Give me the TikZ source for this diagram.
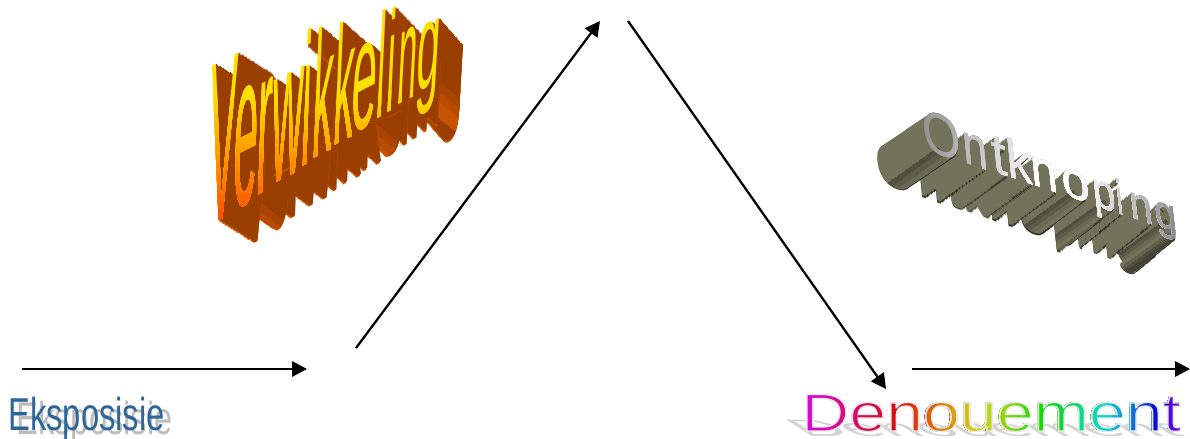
\documentclass[tikz,border=0pt]{standalone}
\usepackage{fontspec}
\setmainfont{Liberation Sans}
\usetikzlibrary{arrows.meta,calc}
\selectcolormodel{rgb}

\definecolor{verwhi}{HTML}{FFE000}
\definecolor{verwlo}{HTML}{FF4800}
\definecolor{verwside}{HTML}{9A3F00}
\definecolor{verwedge}{HTML}{CC5400}
\definecolor{ontside}{HTML}{72735A}
\definecolor{ontedge}{HTML}{34342A}
\definecolor{ontgrey}{HTML}{8E8E8E}
\definecolor{eksblue}{HTML}{2F6699}
\definecolor{eksshadow}{HTML}{BEBEBE}
\definecolor{denshadow}{HTML}{D4D4D4}
\definecolor{denglow}{HTML}{E9E9E9}

\tikzset{
    artletter/.style={inner sep=0pt, anchor=base west, transform shape},
    plotarrow/.style={-{Triangle[length=11.25pt, width=11.5pt]}, line width=1.7pt, black},
    eksfont/.style={font=\fontsize{34.6}{36}\selectfont, inner sep=0pt, anchor=base west, xscale=0.71, transform shape},
    denfont/.style={font=\fontsize{39.8}{42}\selectfont, inner sep=0pt, anchor=base west}
}

% letter / left edge / width / round, in pixels, last letter first
\newcommand\verwletters{g/420/23/1,n/401/19/0,i/390/8/0,l/380/8/0,e/355/25/1,k/337/20/0,k/316/20/0,i/305/9/0,w/275/31/0,r/260/15/0,e/237/24/1,V/212/27/0}
\newcommand\ontletters{g/1152/22/1,n/1127/23/0,i/1114/6/0,p/1090/23/1,o/1058/28/1,n/1028/27/0,k/1003/25/0,t/988/15/0,n/960/25/0,O/920/38/1}

% #1 letter, #2 left, #3 width, #4 depth 0..1, #5 extra x, #6 extra y, #7 colour
\newcommand\verwone[7]{%
    \pgfmathsetmacro\t{(#2-212)/226}
    \pgfmathsetmacro\xc{#2+#3/2}
    \pgfmathsetmacro\by{220-0.64*(\xc-225)}
    \pgfmathsetmacro\hh{167-0.38*(\xc-225)}
    \pgfmathsetmacro\sx{#3*0.75/width("#1")}
    \pgfmathsetmacro\px{#2-5+#4*(35-12*\t)+#5}
    \pgfmathsetmacro\py{\by+0.5*#3/2+#4*(22+6*\t)+#6}
    \pgfmathsetmacro\vx{5*0.1047}
    \pgfmathsetmacro\vy{\hh*0.1047}
    \pgfmathsetmacro\hy{\sx*0.5}
    \node[artletter, text=#7, cm={\sx,\hy,\vx,\vy,(\px,\py)}] {#1};
}
\newcommand\ontone[7]{%
    \pgfmathsetmacro\t{(#2-920)/253}
    \pgfmathsetmacro\sx{#3*0.75/width("#1")}
    \pgfmathsetmacro\px{#2+4-#4*(47-8*\t)+#5}
    \pgfmathsetmacro\py{149+0.318*(#2-920)+3*\t+#4*(32+2*\t)+#6}
    \pgfmathsetmacro\vx{-4*0.1047}
    \pgfmathsetmacro\vy{(43-10*\t)*0.1047}
    \pgfmathsetmacro\hy{-\sx*0.35}
    \node[artletter, text=#7, cm={\sx,\hy,\vx,\vy,(\px,\py)}] {#1};
}

\begin{document}
\begin{tikzpicture}[x=0.75pt, y=-0.75pt]
    \useasboundingbox (0,0) rectangle (1190,439);

    % Arrow ends
    \coordinate (startleft) at (22,369);
    \coordinate (endleft) at (307,369);
    \coordinate (risebottom) at (356,348);
    \coordinate (risetop) at (600,21);
    \coordinate (falltop) at (628,21);
    \coordinate (fallbottom) at (886,389);
    \coordinate (startright) at (912,369);
    \coordinate (endright) at (1190,369);

    % Links
    \draw[plotarrow] (startleft) -- (endleft);
    \draw[plotarrow] (risebottom) -- (risetop);
    \draw[plotarrow] (falltop) -- (fallbottom);
    \draw[plotarrow] (startright) -- (endright);

    % Verwikkeling, sides
    \foreach \l/\x/\w/\r in \verwletters {
        \foreach \d in {32,31,...,1} {
            \pgfmathsetmacro\f{\d/32}
            \verwone{\l}{\x}{\w}{\f}{-0.5}{1.5}{verwedge}
        }
        \foreach \d in {32,31,...,1} {
            \pgfmathsetmacro\f{\d/32}
            \verwone{\l}{\x}{\w}{\f}{0}{0}{verwside}
        }
        \ifnum\r=1
            \foreach \s/\m in {-1/0,0/30,1/60,2/90} {
                \pgfmathsetmacro\cx{\x+\w/2}
                \pgfmathsetmacro\cy{220-0.64*(\x+\w/2-225)-12}
                \begin{scope}
                    \clip ($(\cx,\cy)+\s*(-5,6)+(-3,-2)$) -- ++(50,40) -- ++(-8,9.6) -- ++(-50,-40) -- cycle;
                    \foreach \d in {32,31,...,1} {
                        \pgfmathsetmacro\f{\d/32}
                        \verwone{\l}{\x}{\w}{\f}{0}{0}{verwedge!\m!verwside}
                    }
                \end{scope}
            }
        \fi
    }

    % Verwikkeling, face
    \foreach \l/\x/\w/\r in \verwletters {
        \verwone{\l}{\x}{\w}{0}{0}{0}{verwhi}
    }
    \foreach \yy in {90,98,...,218} {
        \pgfmathsetmacro\p{100-(\yy-90)*100/128}
        \begin{scope}
            \clip (190,\yy) rectangle (470,240);
            \foreach \l/\x/\w/\r in \verwletters {
                \verwone{\l}{\x}{\w}{0}{0}{0}{verwhi!\p!verwlo}
            }
        \end{scope}
    }

    % Ontknoping, sides
    \foreach \l/\x/\w/\r in \ontletters {
        \foreach \d in {32,31,...,1} {
            \pgfmathsetmacro\f{\d/32}
            \ontone{\l}{\x}{\w}{\f}{0.5}{1.3}{ontedge}
        }
        \foreach \d in {32,31,...,1} {
            \pgfmathsetmacro\f{\d/32}
            \ontone{\l}{\x}{\w}{\f}{0}{0}{ontside}
        }
        \ifnum\r=1
            \pgfmathsetmacro\bw{\w/7}
            \foreach \s/\m in {-3/55,-2/35,-1/15,0/0,1/25,2/55,3/75} {
                \pgfmathsetmacro\cx{\x+\w/2}
                \pgfmathsetmacro\cy{149+0.318*(\x-920)+\w*0.45}
                \pgfmathsetmacro\ax{\cx+\s*\bw*0.58+8}
                \pgfmathsetmacro\ay{\cy+\s*\bw*0.82-6}
                \pgfmathsetmacro\bx{\bw*0.58*1.6}
                \pgfmathsetmacro\by{\bw*0.82*1.6}
                \begin{scope}
                    \clip (\ax,\ay) -- ++(-70,50) -- ++(\bx,\by) -- ++(70,-50) -- cycle;
                    \foreach \d in {32,31,...,1} {
                        \pgfmathsetmacro\f{\d/32}
                        \ontone{\l}{\x}{\w}{\f}{0}{0}{ontedge!\m!ontside}
                    }
                \end{scope}
            }
        \fi
    }

    % Ontknoping, face
    \foreach \xx in {915,923,...,1035} {
        \pgfmathsetmacro\p{(\xx-915)*100/120}
        \begin{scope}
            \clip (\xx,100) rectangle (1180,260);
            \foreach \l/\x/\w/\r in \ontletters {
                \ontone{\l}{\x}{\w}{0}{0}{0}{white!\p!ontgrey}
            }
        \end{scope}
    }
    \foreach \xx in {1075,1083,...,1171} {
        \pgfmathsetmacro\p{100-(\xx-1075)*100/96}
        \begin{scope}
            \clip (\xx,100) rectangle (1180,260);
            \foreach \l/\x/\w/\r in \ontletters {
                \ontone{\l}{\x}{\w}{0}{0}{0}{white!\p!ontgrey}
            }
        \end{scope}
    }

    % Eksposisie
    \node[eksfont, text=eksshadow] (eksposisieshadow) at (16,434) {Eksposisie};
    \node[eksfont, text=eksblue] (eksposisie) at (8,430) {Eksposisie};

    % Denouement
    \node[denfont, text=denshadow, cm={1.25,0,-0.7,0.45,(806,436)}, transform shape] (denouementshadow) {Denouement};
    \foreach \xx in {800,808,...,1184} {
        \pgfmathsetmacro\g{(\xx-800)/384}
        \pgfmathsetmacro\h{mod(0.83+0.7*\g+0.25*\g*\g*\g,1)}
        \definecolor{denrainbow}{hsb}{\h,0.95,0.85}
        \begin{scope}
            \clip (\xx,385) rectangle (1190,439);
            \node[denfont, text=denrainbow, xscale=1.25, transform shape] at (801,431) {Denouement};
        \end{scope}
    }
    \node[denfont, text=denglow, xscale=1.25, transform shape] (denouement) at (801,431) {\special{pdf:code q 1 Tr 1 w}Denouement\special{pdf:code Q}};
\end{tikzpicture}
\end{document}
